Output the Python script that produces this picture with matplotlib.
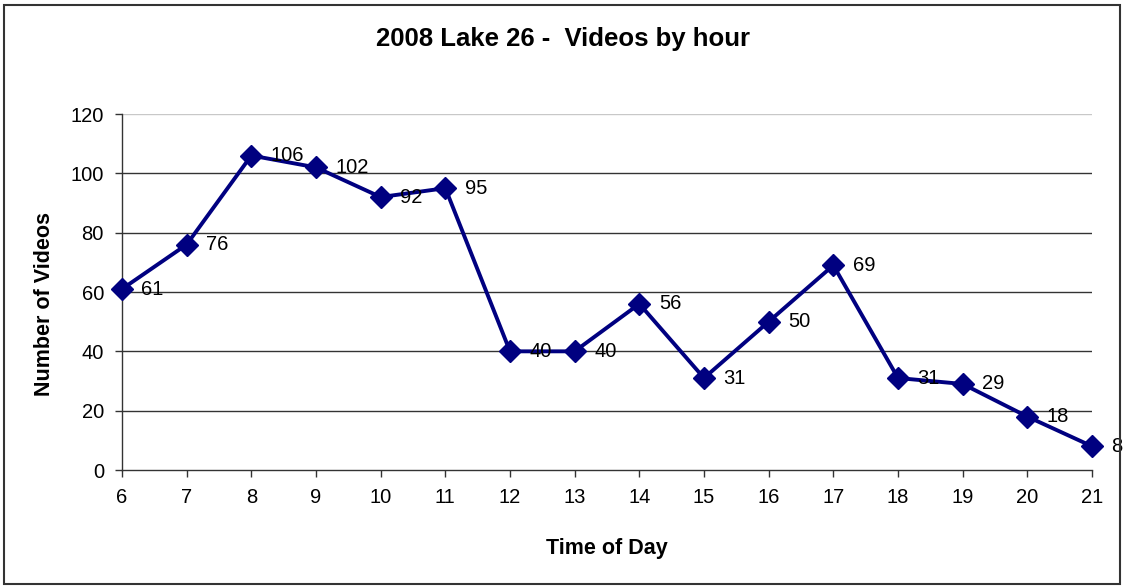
import matplotlib
matplotlib.use("Agg")
import matplotlib.pyplot as plt
from matplotlib.patches import Rectangle

plt.rcParams['font.family'] = ['Liberation Sans', 'DejaVu Sans']

hours = [6, 7, 8, 9, 10, 11, 12, 13, 14, 15, 16, 17, 18, 19, 20, 21]
videos = [61, 76, 106, 102, 92, 95, 40, 40, 56, 31, 50, 69, 31, 29, 18, 8]
y_ticks = [0, 20, 40, 60, 80, 100, 120]

fig = plt.figure(figsize=(11.26, 5.88), dpi=100)
ax = fig.add_axes([122/1126, 1 - 470/588, (1092-122)/1126, (470-114)/588])

# grid lines, top one lighter
for v in y_ticks[1:]:
    ax.axhline(v, color='#c8c8c8' if v == 120 else '#333333', lw=1, zorder=1)

navy = '#000080'
ax.plot(hours, videos, color=navy, lw=2.8, marker='D', ms=11, mfc=navy, mec=navy, zorder=3, clip_on=False)

for h, v in zip(hours, videos):
    ax.annotate(str(v), (h, v), xytext=(14, 0), textcoords='offset points',
                va='center', ha='left', fontsize=14.5, zorder=4)

ax.set_xlim(6, 21)
ax.set_ylim(0, 120)
ax.set_xticks(hours)
ax.set_yticks(y_ticks)
ax.tick_params(labelsize=14.5, length=5, width=1, color='#333333', pad=8)
for s in ['top', 'right']:
    ax.spines[s].set_visible(False)
for s in ['left', 'bottom']:
    ax.spines[s].set_color('#333333')
    ax.spines[s].set_linewidth(1)

ax.set_xlabel('Time of Day', fontsize=15.5, fontweight='bold', labelpad=22)
ax.set_ylabel('Number of Videos', fontsize=15.5, fontweight='bold')
ax.yaxis.set_label_coords(-0.069, 0.466)
fig.text(0.5, 1 - 39/588, '2008 Lake 26 -  Videos by hour', ha='center', va='center',
         fontsize=18.5, fontweight='bold')

fig.patches.append(Rectangle((4/1126, 4/588), (1120-4)/1126, (583-4)/588, transform=fig.transFigure,
                             fill=False, edgecolor='#333333', lw=1.5))

fig.savefig('out.png', dpi=100)
